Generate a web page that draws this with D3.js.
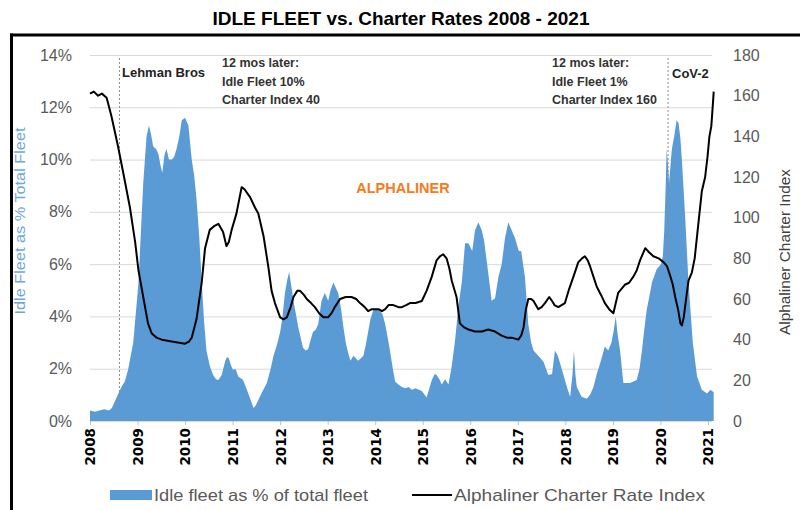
<!DOCTYPE html>
<html>
<head>
<meta charset="utf-8">
<script src="https://cdn.jsdelivr.net/npm/d3@7/dist/d3.min.js"></script>
<style>
  html, body { margin: 0; padding: 0; background: #fff; }
  svg { display: block; font-family: "Liberation Sans", Arial, sans-serif; }
</style>
</head>
<body>
<svg id="chart" width="800" height="510"></svg>
<script>
// ---------- DATA ----------
const yearTicks = [2008,2009,2010,2011,2012,2013,2014,2015,2016,2017,2018,2019,2020,2021];
const leftTicks = [0,2,4,6,8,10,12,14];
const rightTicks = [0,20,40,60,80,100,120,140,160,180];

// Idle fleet as % of total fleet  [decimal year, %]
const idleFleet = [
[2008.00,0.4],[2008.10,0.35],[2008.20,0.4],[2008.30,0.45],[2008.40,0.4],[2008.46,0.5],[2008.56,0.9],[2008.66,1.3],
[2008.73,1.5],[2008.80,1.95],[2008.91,3.0],[2009.02,5.3],[2009.07,7.2],[2009.12,9.1],[2009.19,10.9],[2009.24,11.3],
[2009.28,11.0],[2009.33,10.5],[2009.39,10.4],[2009.44,10.2],[2009.48,9.8],[2009.52,9.5],[2009.57,10.2],[2009.61,10.4],
[2009.66,10.0],[2009.72,10.0],[2009.77,10.1],[2009.82,10.4],[2009.88,10.9],[2009.93,11.5],[2010.00,11.6],[2010.07,11.3],
[2010.14,10.0],[2010.19,9.4],[2010.24,8.5],[2010.30,7.0],[2010.35,5.3],[2010.40,3.8],[2010.45,2.7],[2010.52,2.1],
[2010.59,1.76],[2010.65,1.6],[2010.70,1.57],[2010.77,1.76],[2010.84,2.27],[2010.88,2.45],[2010.92,2.4],[2010.97,2.1],
[2011.01,1.95],[2011.06,2.0],[2011.12,1.7],[2011.22,1.57],[2011.30,1.2],[2011.38,0.8],[2011.44,0.5],[2011.49,0.6],
[2011.54,0.8],[2011.62,1.1],[2011.72,1.45],[2011.80,2.0],[2011.86,2.5],[2011.93,2.9],[2012.00,3.4],[2012.05,4.0],
[2012.10,4.9],[2012.15,5.4],[2012.19,5.7],[2012.24,5.1],[2012.28,4.6],[2012.33,4.1],[2012.38,3.6],[2012.43,3.2],
[2012.48,2.8],[2012.54,2.7],[2012.59,2.75],[2012.64,3.1],[2012.69,3.4],[2012.75,3.5],[2012.80,3.7],[2012.87,4.6],
[2012.94,4.9],[2013.01,4.6],[2013.06,5.0],[2013.12,5.3],[2013.17,5.1],[2013.22,4.9],[2013.28,4.3],[2013.33,3.6],
[2013.38,3.0],[2013.43,2.6],[2013.48,2.3],[2013.54,2.5],[2013.59,2.4],[2013.64,2.3],[2013.70,2.4],[2013.75,2.5],
[2013.80,2.9],[2013.85,3.4],[2013.90,3.9],[2013.96,4.25],[2014.03,4.3],[2014.10,4.2],[2014.15,4.1],[2014.21,3.7],
[2014.26,3.2],[2014.31,2.7],[2014.37,2.0],[2014.42,1.5],[2014.49,1.4],[2014.56,1.3],[2014.63,1.25],[2014.70,1.3],
[2014.77,1.2],[2014.85,1.25],[2014.92,1.2],[2014.98,1.15],[2015.04,1.0],[2015.08,0.9],[2015.13,1.2],[2015.19,1.57],
[2015.25,1.8],[2015.29,1.76],[2015.35,1.6],[2015.40,1.4],[2015.47,1.6],[2015.54,1.4],[2015.61,2.1],[2015.68,3.1],
[2015.75,4.4],[2015.82,5.3],[2015.89,6.8],[2015.96,6.8],[2016.04,6.5],[2016.10,7.3],[2016.17,7.6],[2016.24,7.3],
[2016.29,6.9],[2016.36,5.9],[2016.45,4.6],[2016.52,4.7],[2016.59,5.5],[2016.66,6.0],[2016.73,7.0],[2016.80,7.6],
[2016.87,7.3],[2016.94,7.0],[2017.02,6.5],[2017.07,6.5],[2017.15,5.5],[2017.22,3.7],[2017.28,3.0],[2017.33,2.7],
[2017.43,2.5],[2017.54,2.27],[2017.64,1.76],[2017.72,1.8],[2017.78,2.7],[2017.84,2.5],[2017.89,2.2],[2017.99,1.57],
[2018.05,1.2],[2018.10,0.93],[2018.15,1.8],[2018.18,2.7],[2018.21,1.8],[2018.24,1.3],[2018.34,0.93],[2018.45,0.85],
[2018.52,1.0],[2018.59,1.3],[2018.66,1.8],[2018.73,2.2],[2018.83,2.85],[2018.90,2.7],[2018.97,3.0],[2019.02,3.5],
[2019.06,4.0],[2019.10,3.3],[2019.15,2.7],[2019.22,1.45],[2019.36,1.45],[2019.50,1.57],[2019.56,2.0],[2019.61,2.7],
[2019.66,3.5],[2019.71,4.25],[2019.77,4.8],[2019.82,5.3],[2019.92,5.8],[2020.01,6.0],[2020.05,6.3],[2020.08,7.3],
[2020.11,9.0],[2020.13,10.4],[2020.16,9.8],[2020.18,9.1],[2020.24,10.4],[2020.29,10.9],[2020.34,11.5],[2020.38,11.4],
[2020.42,10.8],[2020.45,10.0],[2020.52,7.8],[2020.59,5.3],[2020.68,3.0],[2020.77,1.7],[2020.87,1.2],[2020.98,1.05],
[2021.05,1.2],[2021.12,1.1]
];

// Alphaliner Charter Rate Index  [decimal year, index]
const charterIndex = [
[2008.00,161],[2008.08,162],[2008.17,160],[2008.25,161],[2008.35,159],[2008.45,150],[2008.59,135],[2008.70,122],
[2008.84,105],[2008.95,88],[2009.02,74],[2009.12,61],[2009.22,48],[2009.30,43],[2009.40,41],[2009.51,40],
[2009.75,39],[2010.00,38],[2010.08,39],[2010.14,41],[2010.24,50],[2010.35,68],[2010.42,85],[2010.52,94],
[2010.62,96],[2010.70,97],[2010.80,93],[2010.87,86],[2010.92,88],[2010.98,94],[2011.08,102],[2011.19,115],
[2011.25,114],[2011.37,110],[2011.47,105],[2011.54,102],[2011.65,91],[2011.75,76],[2011.82,64],[2011.89,58],
[2012.00,51],[2012.07,50],[2012.14,51],[2012.22,56],[2012.28,61],[2012.36,64],[2012.42,64],[2012.50,62],
[2012.56,60],[2012.65,58],[2012.73,56],[2012.82,53],[2012.91,51],[2013.01,51],[2013.08,53],[2013.15,56],
[2013.26,60],[2013.38,61],[2013.50,61],[2013.60,60],[2013.68,58],[2013.78,56],[2013.85,54],[2013.93,55],
[2014.00,55],[2014.07,55],[2014.14,54],[2014.21,55],[2014.28,57],[2014.38,57],[2014.49,56],[2014.56,56],
[2014.65,57],[2014.73,58],[2014.85,58],[2014.98,59],[2015.08,64],[2015.19,71],[2015.29,79],[2015.36,81],
[2015.43,82],[2015.50,80],[2015.56,75],[2015.61,69],[2015.71,61],[2015.78,48],[2015.87,46],[2015.96,45],
[2016.10,44],[2016.24,44],[2016.38,45],[2016.52,44],[2016.66,42],[2016.77,41],[2016.87,41],[2017.01,40],
[2017.07,42],[2017.12,46],[2017.17,55],[2017.22,60],[2017.28,60],[2017.33,59],[2017.43,55],[2017.50,56],
[2017.57,58],[2017.66,61],[2017.72,59],[2017.77,57],[2017.85,56],[2017.92,57],[2017.99,58],[2018.08,65],
[2018.17,71],[2018.27,78],[2018.35,80],[2018.41,81],[2018.47,79],[2018.52,76],[2018.59,71],[2018.66,66],
[2018.75,62],[2018.83,58],[2018.92,55],[2019.01,53],[2019.06,58],[2019.11,63],[2019.18,65],[2019.25,67],
[2019.34,68],[2019.43,71],[2019.50,74],[2019.57,79],[2019.68,85],[2019.76,83],[2019.85,81],[2019.96,80],
[2020.07,78],[2020.14,76],[2020.21,71],[2020.26,67],[2020.31,61],[2020.37,55],[2020.42,48],[2020.45,47],
[2020.49,51],[2020.55,62],[2020.59,69],[2020.66,73],[2020.72,80],[2020.77,91],[2020.82,102],[2020.87,113],
[2020.94,120],[2020.99,130],[2021.03,140],[2021.07,145],[2021.10,155],[2021.12,162]
];

const events = [
  { name: "Lehman Bros", t: 2008.62, lines: ["12 mos later:", "Idle Fleet 10%", "Charter Index 40"] },
  { name: "CoV-2", t: 2020.16, lines: ["12 mos later:", "Idle Fleet 1%", "Charter Index 160"] }
];

// ---------- CHART ----------
const svg = d3.select("#chart");
const BLUE = "#5b9bd5";

const x = d3.scaleLinear().domain([2008, 2021]).range([90, 708]);
const yL = d3.scaleLinear().domain([0, 14]).range([421, 55]);
const yR = d3.scaleLinear().domain([0, 180]).range([421, 55]);
const plotRight = 712;

// frame
svg.append("line").attr("x1", 10).attr("x2", 800).attr("y1", 35).attr("y2", 35)
  .attr("stroke", "#000").attr("stroke-width", 3);
svg.append("line").attr("x1", 11.5).attr("x2", 11.5).attr("y1", 33.5).attr("y2", 510)
  .attr("stroke", "#000").attr("stroke-width", 3);

// title
svg.append("text").attr("x", 401).attr("y", 25).attr("text-anchor", "middle")
  .attr("font-size", 19).attr("font-weight", "bold").attr("fill", "#000")
  .text("IDLE FLEET vs. Charter Rates 2008 - 2021");

// gridlines
const grid = svg.append("g").attr("transform", `translate(${x(2008)},0)`)
  .call(d3.axisLeft(yL).tickValues(leftTicks).tickSize(-(plotRight - x(2008))).tickFormat(""));
grid.select(".domain").remove();
grid.selectAll("line").attr("stroke", "#d9d9d9").attr("stroke-width", 1);

// area
const area = d3.area().x(d => x(d[0])).y0(yL(0)).y1(d => yL(d[1]));
svg.append("path").datum(idleFleet).attr("d", area).attr("fill", BLUE);

// event dashed lines
events.forEach(e => {
  svg.append("line").attr("x1", x(e.t)).attr("x2", x(e.t)).attr("y1", 58).attr("y2", 421)
    .attr("stroke", "#8c8c8c").attr("stroke-width", 1).attr("stroke-dasharray", "2,2");
});

// charter line
const line = d3.line().x(d => x(d[0])).y(d => yR(d[1]));
svg.append("path").datum(charterIndex).attr("d", line)
  .attr("fill", "none").attr("stroke", "#000").attr("stroke-width", 2).attr("stroke-linejoin", "round");

// x axis
const xAxis = svg.append("g").attr("transform", `translate(0,${yL(0)})`)
  .call(d3.axisBottom(x).tickValues(yearTicks).tickSize(4).tickFormat(d3.format("d")));
xAxis.select(".domain").attr("stroke", "#d9d9d9").attr("d", `M${x(2008)},0.5H${plotRight}`);
xAxis.selectAll(".tick line").attr("stroke", "#bfbfbf");
xAxis.selectAll(".tick text")
  .attr("font-family", "DejaVu Sans, sans-serif").attr("font-size", 13.5).attr("font-weight", "bold")
  .attr("fill", "#000").attr("text-anchor", "end")
  .attr("transform", "translate(0,7) rotate(-90)").attr("x", 0).attr("y", 0).attr("dy", "0.36em");

// left axis labels
const yAxisL = svg.append("g").attr("transform", "translate(72,0)")
  .call(d3.axisLeft(yL).tickValues(leftTicks).tickSize(0).tickPadding(0).tickFormat(d => d + "%"));
yAxisL.select(".domain").remove();
yAxisL.selectAll("text").attr("font-size", 16).attr("fill", "#595959").attr("font-family", "Liberation Sans, Arial, sans-serif");

// right axis labels
const yAxisR = svg.append("g").attr("transform", "translate(733,0)")
  .call(d3.axisRight(yR).tickValues(rightTicks).tickSize(0).tickPadding(0));
yAxisR.select(".domain").remove();
yAxisR.selectAll("text").attr("font-size", 16).attr("fill", "#595959").attr("font-family", "Liberation Sans, Arial, sans-serif");

// axis titles
svg.append("text").attr("transform", "translate(25,221) rotate(-90)").attr("text-anchor", "middle")
  .attr("font-size", 15).attr("fill", "#6fa6da")
  .attr("textLength", 187).attr("lengthAdjust", "spacingAndGlyphs")
  .text("Idle Fleet as % Total Fleet");
svg.append("text").attr("transform", "translate(790,252) rotate(-90)").attr("text-anchor", "middle")
  .attr("font-size", 15.5).attr("fill", "#404040")
  .attr("textLength", 166).attr("lengthAdjust", "spacingAndGlyphs")
  .text("Alphaliner Charter Index");

// annotations
svg.append("text").attr("x", 122).attr("y", 77).attr("font-size", 13).attr("font-weight", "bold")
  .attr("fill", "#222").text(events[0].name);
events[0].lines.forEach((s, i) => {
  svg.append("text").attr("x", 222).attr("y", 67 + i * 18.5).attr("font-size", 12.5).attr("font-weight", "bold")
    .attr("fill", "#333").text(s);
});
svg.append("text").attr("x", 672).attr("y", 78).attr("font-size", 13).attr("font-weight", "bold")
  .attr("fill", "#222").text(events[1].name);
events[1].lines.forEach((s, i) => {
  svg.append("text").attr("x", 552).attr("y", 67 + i * 18.5).attr("font-size", 12.5).attr("font-weight", "bold")
    .attr("fill", "#333").text(s);
});

// watermark
svg.append("text").attr("x", 403).attr("y", 193).attr("text-anchor", "middle")
  .attr("font-size", 14.5).attr("font-weight", "bold").attr("fill", "#f47b20").text("ALPHALINER");

// legend
svg.append("rect").attr("x", 110).attr("y", 490).attr("width", 42).attr("height", 10).attr("fill", BLUE);
svg.append("text").attr("x", 154).attr("y", 501).attr("font-size", 17).attr("fill", "#595959")
  .attr("textLength", 214).attr("lengthAdjust", "spacingAndGlyphs")
  .text("Idle fleet as % of total fleet");
svg.append("line").attr("x1", 412).attr("x2", 452).attr("y1", 495).attr("y2", 495)
  .attr("stroke", "#000").attr("stroke-width", 2);
svg.append("text").attr("x", 454).attr("y", 501).attr("font-size", 17).attr("fill", "#595959")
  .attr("textLength", 251).attr("lengthAdjust", "spacingAndGlyphs")
  .text("Alphaliner Charter Rate Index");
</script>
</body>
</html>
